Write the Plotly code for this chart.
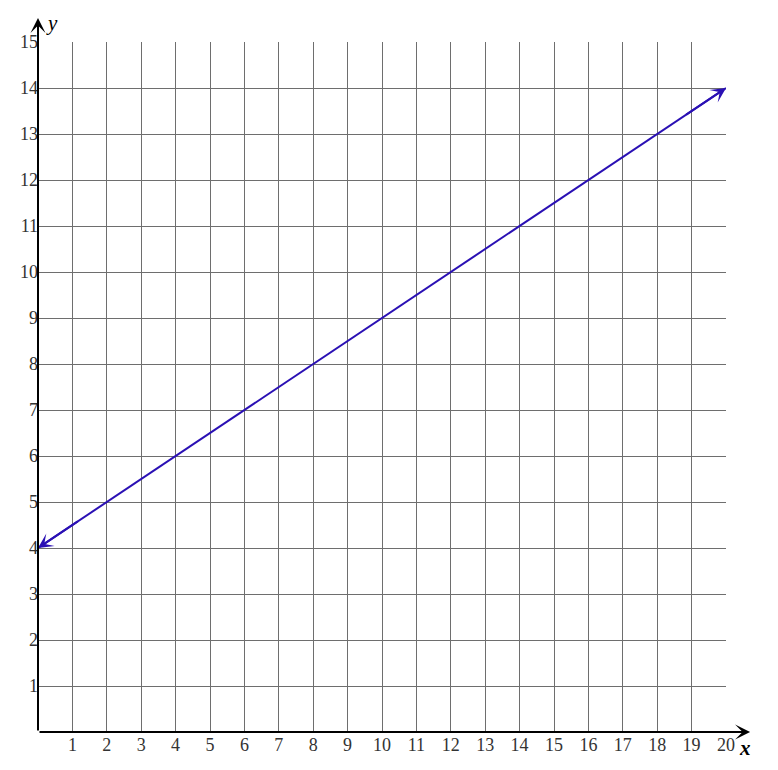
import plotly.graph_objects as go

x_ticks = list(range(1, 21))
y_ticks = list(range(1, 16))
line_x = [0, 20]
line_y = [4, 14]

LINE_COLOR = "#2a10b4"
GRID = "#6e6e6e"
FONT = "Liberation Serif"

fig = go.Figure()
fig.add_trace(go.Scatter(x=line_x, y=line_y, mode="lines",
                         line=dict(color=LINE_COLOR, width=2), hoverinfo="skip",
                         cliponaxis=False))

# arrowheads on the line ends
for (tx, ty), (fx, fy) in [((line_x[1], line_y[1]), (line_x[0], line_y[0])),
                           ((line_x[0], line_y[0]), (line_x[1], line_y[1]))]:
    dx = (tx - fx) * 0.06
    dy = (ty - fy) * 0.06
    fig.add_annotation(x=tx, y=ty, ax=tx - dx, ay=ty - dy, xref="x", yref="y",
                       axref="x", ayref="y", text="", showarrow=True,
                       arrowhead=3, arrowsize=1.25, arrowwidth=2, arrowcolor=LINE_COLOR,
                       standoff=0)

# axis arrows
fig.add_annotation(x=20.7, y=0, ax=0, ay=0, xref="x", yref="y", axref="x", ayref="y",
                   text="", showarrow=True, arrowhead=3, arrowsize=1.25, arrowwidth=2,
                   arrowcolor="black", standoff=0)
fig.add_annotation(x=0, y=15.52, ax=0, ay=0, xref="x", yref="y", axref="x", ayref="y",
                   text="", showarrow=True, arrowhead=3, arrowsize=1.25, arrowwidth=2,
                   arrowcolor="black", standoff=0)
fig.add_annotation(x=1.028, y=-0.023, xref="paper", yref="paper", text="<b><i>x</i></b>",
                   xanchor="center", yanchor="middle",
                   showarrow=False, font=dict(family=FONT, size=21, color="black"))
fig.add_annotation(x=0.021, y=1.027, xref="paper", yref="paper", text="<i>y</i>",
                   xanchor="center", yanchor="middle",
                   showarrow=False, font=dict(family=FONT, size=21, color="black"))

fig.update_xaxes(range=[0, 20], tickvals=x_ticks, ticktext=[str(v) for v in x_ticks],
                 showgrid=True, gridcolor=GRID, gridwidth=1, zeroline=False,
                 showline=False, ticks="", ticklen=0,
                 tickfont=dict(family=FONT, size=18, color="#333"))
fig.update_yaxes(range=[0, 15], tickvals=y_ticks, ticktext=[str(v) for v in y_ticks],
                 showgrid=True, gridcolor=GRID, gridwidth=1, zeroline=False,
                 showline=False, ticks="", ticklen=0, ticklabelstandoff=-1,
                 tickfont=dict(family=FONT, size=18, color="#333"))

fig.update_layout(width=770, height=762, margin=dict(l=27, r=52, t=34, b=38),
                  plot_bgcolor="white", paper_bgcolor="white", showlegend=False)

fig.write_html("out.html")
